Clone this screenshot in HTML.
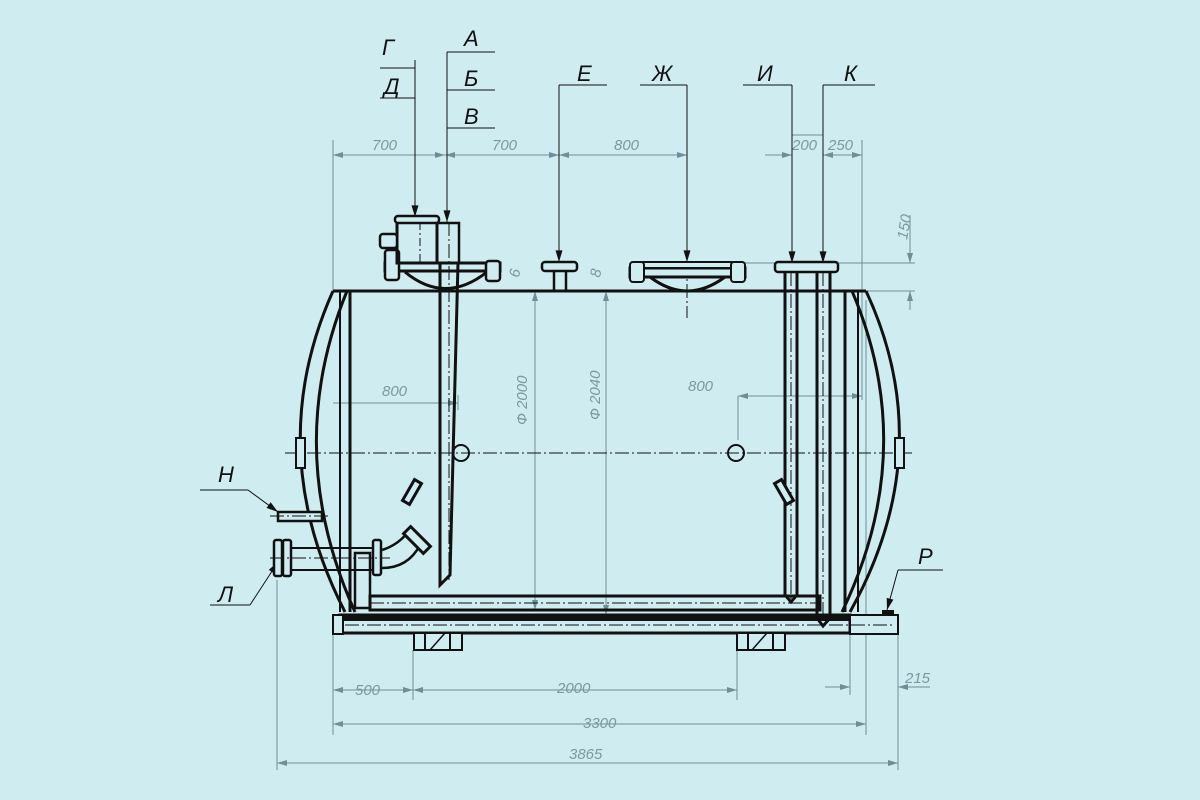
<!DOCTYPE html>
<html><head><meta charset="utf-8"><style>
html,body{margin:0;padding:0;background:#cfecf1;}
svg{display:block}
text{font-family:"Liberation Sans","DejaVu Sans",sans-serif;font-style:italic}
.d{stroke:#6f8f96;stroke-width:1;fill:none}
.t{fill:#7a9aa0;font-size:15px}
.L{fill:#111;font-size:22px}
.k{stroke:#111;fill:none}
.c{stroke:#111;stroke-width:1;stroke-dasharray:14 3 2 3;fill:none}
</style></head><body>
<svg width="1200" height="800" viewBox="0 0 1200 800">
<rect width="1200" height="800" fill="#cfecf1"/>
<defs>
<marker id="a" viewBox="0 0 10 6" refX="10" refY="3" markerWidth="14" markerHeight="6" orient="auto-start-reverse" markerUnits="userSpaceOnUse"><path d="M0,0L10,3L0,6z" fill="#6f8f96"/></marker>
<marker id="b" viewBox="0 0 10 6" refX="10" refY="3" markerWidth="12" markerHeight="7" orient="auto" markerUnits="userSpaceOnUse"><path d="M0,0L10,3L0,6z" fill="#111"/></marker>
</defs>

<!-- top dimension -->
<g class="d">
<line x1="333" y1="140" x2="333" y2="290"/>
<line x1="862" y1="140" x2="862" y2="400"/>
<line x1="333" y1="155" x2="445" y2="155" marker-start="url(#a)" marker-end="url(#a)"/>
<line x1="445" y1="155" x2="559" y2="155" marker-start="url(#a)" marker-end="url(#a)"/>
<line x1="559" y1="155" x2="687" y2="155" marker-start="url(#a)" marker-end="url(#a)"/>
<line x1="765" y1="155" x2="792" y2="155" marker-end="url(#a)"/>
<line x1="823" y1="155" x2="862" y2="155" marker-start="url(#a)" marker-end="url(#a)"/>
<line x1="792" y1="135" x2="823" y2="135"/>
<!-- 150 -->
<line x1="745" y1="263" x2="915" y2="263"/>
<line x1="866" y1="291" x2="915" y2="291"/>
<line x1="910" y1="215" x2="910" y2="263" marker-end="url(#a)"/>
<line x1="910" y1="310" x2="910" y2="291" marker-end="url(#a)"/>
<!-- bottom dims -->
<line x1="333" y1="635" x2="333" y2="735"/>
<line x1="413" y1="650" x2="413" y2="700"/>
<line x1="737" y1="650" x2="737" y2="700"/>
<line x1="866" y1="300" x2="866" y2="735"/>
<line x1="850" y1="635" x2="850" y2="695"/>
<line x1="898" y1="635" x2="898" y2="770"/>
<line x1="277" y1="580" x2="277" y2="770"/>
<line x1="333" y1="690" x2="413" y2="690" marker-start="url(#a)" marker-end="url(#a)"/>
<line x1="413" y1="690" x2="737" y2="690" marker-start="url(#a)" marker-end="url(#a)"/>
<line x1="825" y1="687" x2="850" y2="687" marker-end="url(#a)"/>
<line x1="930" y1="687" x2="898" y2="687" marker-end="url(#a)"/>
<line x1="333" y1="724" x2="866" y2="724" marker-start="url(#a)" marker-end="url(#a)"/>
<line x1="277" y1="763" x2="898" y2="763" marker-start="url(#a)" marker-end="url(#a)"/>
<!-- inner 800 -->
<line x1="333" y1="403" x2="458" y2="403" marker-end="url(#a)"/>
<line x1="458" y1="395" x2="458" y2="410"/>
<line x1="738" y1="396" x2="862" y2="396" marker-start="url(#a)" marker-end="url(#a)"/>
<line x1="738" y1="396" x2="738" y2="440"/>
<!-- diameters -->
<line x1="535" y1="291" x2="535" y2="610" marker-start="url(#a)" marker-end="url(#a)"/>
<line x1="606" y1="291" x2="606" y2="615" marker-start="url(#a)" marker-end="url(#a)"/>
</g>
<g class="t">
<text x="372" y="150">700</text><text x="492" y="150">700</text><text x="614" y="150">800</text>
<text x="792" y="150">200</text><text x="828" y="150">250</text>
<text x="355" y="695">500</text><text x="557" y="693">2000</text><text x="905" y="683">215</text>
<text x="583" y="728">3300</text><text x="569" y="759">3865</text>
<text x="382" y="396">800</text><text x="688" y="391">800</text>
<text transform="translate(907,240) rotate(-80)">150</text>
<text transform="translate(527,425) rotate(-90)">Ф 2000</text>
<text transform="translate(600,420) rotate(-90)">Ф 2040</text>
<text transform="translate(519,278) rotate(-80)">6</text>
<text transform="translate(600,278) rotate(-80)">8</text>
</g>

<!-- leaders -->
<g class="k" stroke-width="1">
<line x1="380" y1="68" x2="415" y2="68"/><line x1="380" y1="98" x2="415" y2="98"/>
<line x1="415" y1="60" x2="415" y2="217" marker-end="url(#b)"/>
<line x1="447" y1="52" x2="495" y2="52"/><line x1="447" y1="90" x2="495" y2="90"/><line x1="447" y1="128" x2="495" y2="128"/>
<line x1="447" y1="52" x2="447" y2="222" marker-end="url(#b)"/>
<line x1="559" y1="85" x2="607" y2="85"/><line x1="559" y1="85" x2="559" y2="262" marker-end="url(#b)"/>
<line x1="640" y1="85" x2="687" y2="85"/><line x1="687" y1="85" x2="687" y2="262" marker-end="url(#b)"/>
<line x1="743" y1="85" x2="792" y2="85"/><line x1="792" y1="85" x2="792" y2="263" marker-end="url(#b)"/>
<line x1="823" y1="85" x2="875" y2="85"/><line x1="823" y1="85" x2="823" y2="263" marker-end="url(#b)"/>
<line x1="200" y1="490" x2="248" y2="490"/><line x1="248" y1="490" x2="278" y2="512" marker-end="url(#b)"/>
<line x1="210" y1="605" x2="250" y2="605"/><line x1="250" y1="605" x2="278" y2="562" marker-end="url(#b)"/>
<line x1="898" y1="570" x2="943" y2="570"/><line x1="898" y1="570" x2="887" y2="610" marker-end="url(#b)"/>
</g>
<g class="L">
<text x="382" y="55">Г</text><text x="384" y="94">Д</text>
<text x="464" y="46">А</text><text x="464" y="86">Б</text><text x="464" y="124">В</text>
<text x="577" y="81">Е</text><text x="652" y="81">Ж</text><text x="757" y="81">И</text><text x="844" y="81">К</text>
<text x="218" y="482">Н</text><text x="218" y="602">Л</text><text x="918" y="564">Р</text>
</g>

<!-- centre lines -->
<line class="c" x1="285" y1="453" x2="912" y2="453"/>
<line class="c" x1="687" y1="262" x2="687" y2="318"/>

<!-- shell -->
<g class="k" stroke-width="3">
<line x1="333" y1="291" x2="866" y2="291"/>
<line x1="350" y1="291" x2="350" y2="612"/>
<line x1="845" y1="291" x2="845" y2="612"/>
<path d="M333,291 Q262,450 345,612"/>
<path d="M347,291 Q282,450 355,612"/>
<path d="M866,291 Q940,450 850,612"/>
<path d="M852,291 Q920,450 842,612"/>
<line x1="340" y1="291" x2="340" y2="612" stroke-width="2"/>
<line x1="858" y1="291" x2="858" y2="612" stroke-width="2"/>
</g>
<rect x="296" y="438" width="9" height="30" fill="#cfecf1" stroke="#111" stroke-width="2"/>
<rect x="895" y="438" width="9" height="30" fill="#cfecf1" stroke="#111" stroke-width="2"/>

<!-- base -->
<rect x="340" y="615" width="510" height="18" fill="#cfecf1" stroke="#111" stroke-width="3"/>
<rect x="340" y="615" width="510" height="6" fill="#111"/>
<rect x="850" y="615" width="48" height="19" fill="#cfecf1" stroke="#111" stroke-width="2"/>
<rect x="882" y="610" width="12" height="5" fill="#111"/>
<rect x="333" y="615" width="10" height="19" fill="#cfecf1" stroke="#111" stroke-width="2"/>
<rect x="414" y="633" width="48" height="17" fill="#cfecf1" stroke="#111" stroke-width="2"/>
<rect x="737" y="633" width="48" height="17" fill="#cfecf1" stroke="#111" stroke-width="2"/>
<path d="M430,650 L445,633 M752,650 L767,633" stroke="#111" stroke-width="1.5"/>
<line x1="425" y1="633" x2="425" y2="650" stroke="#111" stroke-width="2"/>
<line x1="450" y1="633" x2="450" y2="650" stroke="#111" stroke-width="2"/>
<line x1="748" y1="633" x2="748" y2="650" stroke="#111" stroke-width="2"/>
<line x1="773" y1="633" x2="773" y2="650" stroke="#111" stroke-width="2"/>
<line class="c" x1="345" y1="625" x2="895" y2="625"/>
<!-- bottom inner pipe -->
<rect x="370" y="596" width="450" height="14" fill="none" stroke="#111" stroke-width="3"/>
<line class="c" x1="370" y1="603" x2="820" y2="603"/>

<!-- left nozzle assembly -->
<path d="M405,272 Q445,305 487,272" fill="none" stroke="#111" stroke-width="3"/>
<rect x="385" y="263" width="115" height="8" fill="#cfecf1" stroke="#111" stroke-width="3"/>
<rect x="385" y="250" width="14" height="30" rx="3" fill="#cfecf1" stroke="#111" stroke-width="2.5"/>
<rect x="486" y="261" width="14" height="20" rx="3" fill="#cfecf1" stroke="#111" stroke-width="2.5"/>
<rect x="397" y="222" width="40" height="41" fill="none" stroke="#111" stroke-width="3"/>
<rect x="395" y="216" width="44" height="7" rx="3" fill="#cfecf1" stroke="#111" stroke-width="2.5"/>
<rect x="380" y="234" width="17" height="14" rx="3" fill="#cfecf1" stroke="#111" stroke-width="2.5"/>
<rect x="437" y="223" width="22" height="40" fill="none" stroke="#111" stroke-width="2.5"/>
<path d="M440,263 L440,585 L450,575 L458,263" fill="none" stroke="#111" stroke-width="3"/>
<line class="c" x1="449" y1="222" x2="449" y2="580"/>
<line x1="420" y1="222" x2="420" y2="263" stroke="#111" stroke-dasharray="8 3 2 3"/>

<!-- E nozzle -->
<rect x="554" y="270" width="12" height="21" fill="none" stroke="#111" stroke-width="2.5"/>
<rect x="542" y="262" width="35" height="9" rx="3" fill="#cfecf1" stroke="#111" stroke-width="2.5"/>
<!-- manway -->
<path d="M650,277 Q687,305 725,277" fill="none" stroke="#111" stroke-width="3"/>
<rect x="630" y="268" width="115" height="9" fill="#cfecf1" stroke="#111" stroke-width="3"/>
<rect x="640" y="262" width="95" height="6" rx="3" fill="#cfecf1" stroke="#111" stroke-width="2"/>
<rect x="630" y="262" width="14" height="20" rx="3" fill="#cfecf1" stroke="#111" stroke-width="2"/>
<rect x="731" y="262" width="14" height="20" rx="3" fill="#cfecf1" stroke="#111" stroke-width="2"/>

<!-- right pipes -->
<rect x="775" y="262" width="63" height="10" rx="3" fill="#cfecf1" stroke="#111" stroke-width="2.5"/>
<path d="M785,272 L785,595 L791,602 L797,595 L797,272" fill="none" stroke="#111" stroke-width="3"/>
<path d="M817,272 L817,618 L823,626 L830,618 L830,272" fill="none" stroke="#111" stroke-width="3"/>
<line class="c" x1="791" y1="272" x2="791" y2="600"/>
<line class="c" x1="823" y1="272" x2="823" y2="620"/>

<!-- circles -->
<circle cx="461" cy="453" r="8" fill="none" stroke="#111" stroke-width="2"/>
<circle cx="736" cy="453" r="8" fill="none" stroke="#111" stroke-width="2"/>

<!-- small slanted items -->
<rect x="-4" y="-12" width="8" height="24" transform="translate(412,492) rotate(30)" fill="#cfecf1" stroke="#111" stroke-width="3"/>
<rect x="-4" y="-12" width="8" height="24" transform="translate(784,492) rotate(-30)" fill="#cfecf1" stroke="#111" stroke-width="3"/>

<!-- H nozzle -->
<rect x="278" y="512" width="44" height="9" fill="#cfecf1" stroke="#111" stroke-width="2.5"/>
<line class="c" x1="270" y1="516" x2="330" y2="516"/>
<!-- Л nozzle -->
<rect x="290" y="548" width="90" height="22" fill="none" stroke="#111" stroke-width="2"/>
<rect x="274" y="540" width="8" height="36" rx="2" fill="#cfecf1" stroke="#111" stroke-width="2.5"/>
<rect x="283" y="540" width="8" height="36" rx="2" fill="#cfecf1" stroke="#111" stroke-width="2.5"/>
<rect x="373" y="540" width="8" height="35" rx="2" fill="#cfecf1" stroke="#111" stroke-width="2.5"/>
<rect x="355" y="553" width="15" height="55" fill="none" stroke="#111" stroke-width="2.5"/>
<path d="M382,550 Q398,545 408,532 M382,568 Q408,568 420,545" fill="none" stroke="#111" stroke-width="2.5"/>
<rect x="-5" y="-14" width="10" height="28" transform="translate(417,540) rotate(-45)" fill="#cfecf1" stroke="#111" stroke-width="3"/>
<line class="c" x1="270" y1="558" x2="390" y2="558"/>
</svg>
</body></html>
